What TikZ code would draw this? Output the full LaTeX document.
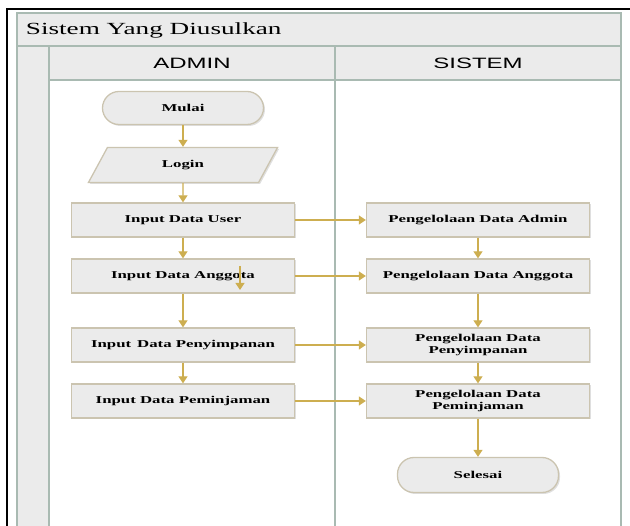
\documentclass[tikz,border=0pt]{standalone}
\usepackage{fontspec}
\usepackage{tikz}
\usetikzlibrary{arrows.meta}
\usetikzlibrary{shapes.geometric}
\usetikzlibrary{shadows}
\newfontfamily\flowfont[FakeStretch=1.6]{Liberation Serif}
\newfontfamily\lanefont[FakeStretch=1.6]{Liberation Sans}
\definecolor{lanegray}{HTML}{EBEBEB}
\definecolor{laneline}{HTML}{A9BAB2}
\definecolor{boxline}{HTML}{CBC4B0}
\definecolor{flowgold}{HTML}{CDAE50}

\begin{document}
\begin{tikzpicture}[->,>={Triangle[width=9pt,length=7pt]},node distance=56pt,
                        line width=1.1pt,
                        box/.style={rectangle,draw=boxline,fill=lanegray,line width=1.3pt,
                          minimum width=223pt,minimum height=34pt,inner sep=2pt,align=center,
                          font=\flowfont\fontsize{10.5}{12}\selectfont\bfseries,
                          drop shadow={shadow xshift=1.5pt,shadow yshift=-1.5pt,opacity=0.25}},
                        terminal/.style={box,rounded corners=16.5pt,minimum width=161pt,minimum height=33pt},
                        io/.style={box,trapezium,trapezium left angle=67,trapezium right angle=113,
                          trapezium stretches=true,minimum width=190pt,minimum height=35pt},
                        lanehead/.style={font=\lanefont\fontsize{15}{17}\selectfont}]

        \useasboundingbox (0pt,0pt) rectangle (630pt,-526pt);

        % pool
        \begin{scope}[-,line width=2pt,draw=laneline]
            \fill[lanegray] (17pt,-13pt) rectangle (621pt,-46pt);
            \fill[lanegray] (49pt,-46pt) rectangle (621pt,-80pt);
            \fill[lanegray] (17pt,-46pt) rectangle (49pt,-526pt);
            \draw (17pt,-526pt) -- (17pt,-13pt) -- (621pt,-13pt) -- (621pt,-526pt);
            \draw (17pt,-46pt) -- (621pt,-46pt);
            \draw (49pt,-80pt) -- (621pt,-80pt);
            \draw (49pt,-46pt) -- (49pt,-526pt);
            \draw (335pt,-46pt) -- (335pt,-526pt);
            \draw[black] (7pt,-526pt) -- (7pt,-9pt) -- (630pt,-9pt);
        \end{scope}

        \node[anchor=west,font=\flowfont\fontsize{17}{20}\selectfont] (title) at (22pt,-30pt) {Sistem Yang Diusulkan};
        \node[lanehead] (admin) at (192pt,-63pt) {ADMIN};
        \node[lanehead] (sistem) at (478pt,-63pt) {SISTEM};

        % admin lane
        \node[terminal] (mulai) at (183pt,-108pt) {Mulai};
        \node[io] (login) [below of=mulai,node distance=57pt] {Login};
        \node[box] (user) [below of=login,node distance=55pt] {Input Data User};
        \node[box] (anggota) [below of=user] {Input Data Anggota};
        \node[box] (simpan) [below of=anggota,node distance=69pt] {Input\, Data Penyimpanan};
        \node[box] (pinjam) [below of=simpan] {Input Data Peminjaman};

        % sistem lane
        \node[box] (kadmin) [right of=user,node distance=295pt] {Pengelolaan Data Admin};
        \node[box] (kanggota) [right of=anggota,node distance=295pt] {Pengelolaan Data Anggota};
        \node[box] (ksimpan) [right of=simpan,node distance=295pt] {Pengelolaan Data\\Penyimpanan};
        \node[box] (kpinjam) [right of=pinjam,node distance=295pt] {Pengelolaan Data\\Peminjaman};
        \node[terminal,minimum height=35pt] (selesai) [below of=kpinjam,node distance=74pt] {Selesai};

        \coordinate (s1) at (240pt,-266pt);
        \coordinate (s2) at (240pt,-290pt);

        \begin{scope}[draw=flowgold,>={Triangle[width=9pt,length=7pt,flowgold]}]
            \path [->] (mulai) edge (login);
            \path [->] (login) edge (user);
            \path [->] (user) edge (anggota);
            \path [->] (anggota) edge (simpan);
            \path [->] (simpan) edge (pinjam);
            \path [->] (user) edge (kadmin);
            \path [->] (anggota) edge (kanggota);
            \path [->] (simpan) edge (ksimpan);
            \path [->] (pinjam) edge (kpinjam);
            \path [->] (kadmin) edge (kanggota);
            \path [->] (kanggota) edge (ksimpan);
            \path [->] (ksimpan) edge (kpinjam);
            \path [->] (kpinjam) edge (selesai);
            \path [->] (s1) edge (s2);
        \end{scope}
    \end{tikzpicture}
\end{document}
